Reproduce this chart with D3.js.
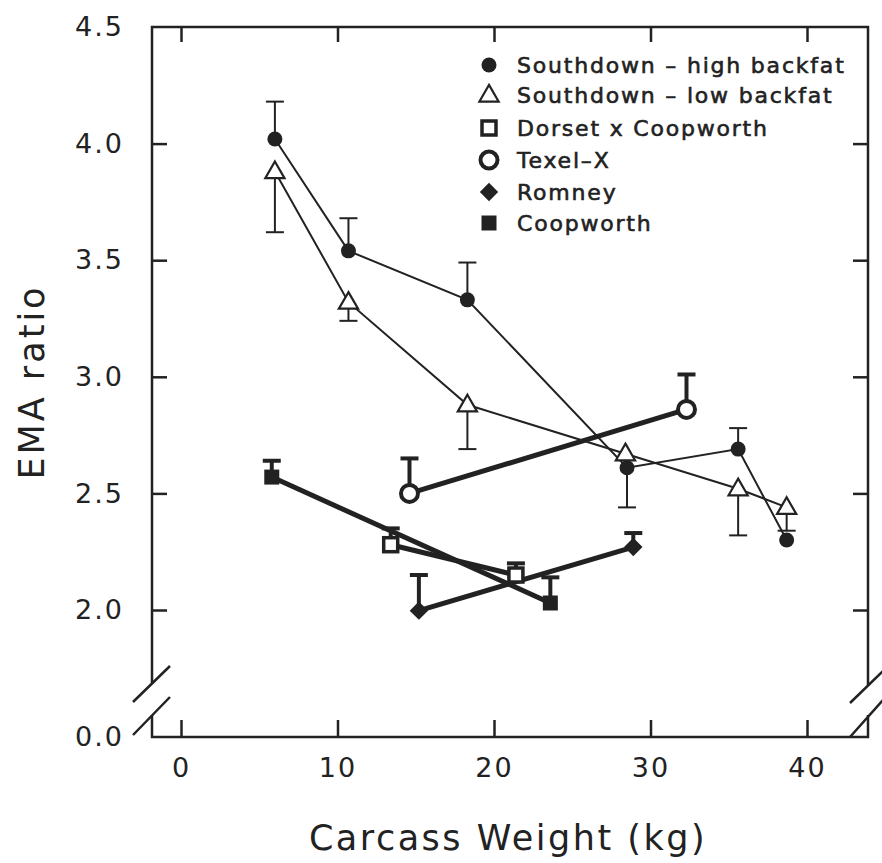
<!DOCTYPE html>
<html><head><meta charset="utf-8">
<script src="https://cdn.jsdelivr.net/npm/d3@7"></script>
<style>body{margin:0;background:#fff}svg{display:block}text{font-family:"DejaVu Sans",sans-serif;fill:#222}</style>
</head><body><svg id="c" width="882" height="863"></svg>
<script>
// ---- data ----
const seriesNames = ["Southdown – high backfat","Southdown – low backfat","Dorset x Coopworth","Texel–X","Romney","Coopworth"];
const sdHighX = [6.0, 10.7, 18.3, 28.5, 35.6, 38.7];
const sdHighY = [4.02, 3.54, 3.33, 2.61, 2.69, 2.30];
const sdHighErr = [4.18, 3.68, 3.49, 2.44, 2.78, null];
const sdLowX = [6.0, 10.7, 18.3, 28.4, 35.6, 38.7];
const sdLowY = [3.88, 3.32, 2.88, 2.67, 2.52, 2.44];
const sdLowErr = [3.62, 3.24, 2.69, null, 2.32, 2.34];
const dxcX = [13.4, 21.4];
const dxcY = [2.28, 2.15];
const dxcErr = [2.35, 2.20];
const texelX = [14.6, 32.3];
const texelY = [2.50, 2.86];
const texelErr = [2.65, 3.01];
const romneyX = [15.2, 28.9];
const romneyY = [1.99, 2.27];
const romneyErr = [2.15, 2.33];
const coopX = [5.8, 23.6];
const coopY = [2.57, 2.03];
const coopErr = [2.64, 2.14];
const xTicks = [0, 10, 20, 30, 40];
const yTicks = [0, 2.0, 2.5, 3.0, 3.5, 4.0, 4.5];

// ---- layout ----
const L = 152, R = 868, T = 27, B = 737;
const svg = d3.select("#c");
const x = d3.scaleLinear().domain([0, 40]).range([181, 807]);
const y = d3.scaleLinear().domain([0, 2, 4.5]).range([B, 610, T]);

const ink = "#222";
// frame with breaks
const frame = svg.append("g").attr("fill","none").attr("stroke",ink).attr("stroke-width",2.5);
frame.append("path").attr("d", `M${L},684 V${T} H${R} V686`);
frame.append("path").attr("d", `M${L},715 V${B} H${R} V715`);
frame.append("path").attr("d", "M133,702 L170,666 M133,735 L170,697 M850,703 L884,670 M850,737 L884,699");

// axes (inward ticks)
const fmt = d3.format(".1f");
const gl = svg.append("g").attr("transform",`translate(${L},0)`)
  .call(d3.axisLeft(y).tickValues(yTicks).tickSizeInner(-15).tickSizeOuter(0).tickPadding(28).tickFormat(fmt));
const gr = svg.append("g").attr("transform",`translate(${R},0)`)
  .call(d3.axisRight(y).tickValues(yTicks.slice(1,6)).tickSizeInner(-15).tickSizeOuter(0).tickFormat(""));
const gb = svg.append("g").attr("transform",`translate(0,${B})`)
  .call(d3.axisBottom(x).tickValues(xTicks).tickSizeInner(-17).tickSizeOuter(0).tickPadding(21).tickFormat(d3.format("d")));
const gt = svg.append("g").attr("transform",`translate(0,${T})`)
  .call(d3.axisTop(x).tickValues(xTicks).tickSizeInner(-15).tickSizeOuter(0).tickFormat(""));
[gl,gr,gb,gt].forEach(g=>{
  g.select(".domain").remove();
  g.selectAll(".tick line").attr("stroke",ink).attr("stroke-width",2.5);
  g.selectAll(".tick text").attr("fill",ink).style("font-size","27px").style("letter-spacing","2px").style("font-family","DejaVu Sans");
});
gl.selectAll(".tick").filter(d=>d===0||d===4.5).select("line").remove();

// titles
svg.append("text").attr("x",508).attr("y",850).attr("text-anchor","middle")
  .style("font-size","35px").style("letter-spacing","2.5px").text("Carcass Weight (kg)");
svg.append("text").attr("transform","translate(44,382) rotate(-90)").attr("text-anchor","middle")
  .style("font-size","35px").style("letter-spacing","3px").text("EMA ratio");

// series definitions
const series = [
  {xs:sdHighX, ys:sdHighY, es:sdHighErr, lw:2, ew:2, sym:"circleF"},
  {xs:sdLowX, ys:sdLowY, es:sdLowErr, lw:2, ew:2, sym:"tri"},
  {xs:dxcX, ys:dxcY, es:dxcErr, lw:5, ew:4, sym:"squareO"},
  {xs:texelX, ys:texelY, es:texelErr, lw:5, ew:4, sym:"circleO"},
  {xs:romneyX, ys:romneyY, es:romneyErr, lw:5, ew:4, sym:"diamond"},
  {xs:coopX, ys:coopY, es:coopErr, lw:5, ew:4, sym:"squareF"}
];

function drawSym(g, sym, cx, cy){
  if(sym==="circleF") g.append("circle").attr("cx",cx).attr("cy",cy).attr("r",7.5).attr("fill",ink);
  else if(sym==="circleO") g.append("circle").attr("cx",cx).attr("cy",cy).attr("r",8.5).attr("fill","#fff").attr("stroke",ink).attr("stroke-width",4);
  else if(sym==="tri") g.append("path").attr("d",d3.symbol(d3.symbolTriangle,160)()).attr("transform",`translate(${cx},${cy+1})`).attr("fill","#fff").attr("stroke",ink).attr("stroke-width",2.2);
  else if(sym==="squareO") g.append("rect").attr("x",cx-7).attr("y",cy-7).attr("width",14).attr("height",14).attr("fill","#fff").attr("stroke",ink).attr("stroke-width",3.5);
  else if(sym==="squareF") g.append("rect").attr("x",cx-7.5).attr("y",cy-7.5).attr("width",15).attr("height",15).attr("fill",ink);
  else if(sym==="diamond") g.append("rect").attr("x",-6.5).attr("y",-6.5).attr("width",13).attr("height",13).attr("fill",ink).attr("transform",`translate(${cx},${cy}) rotate(45)`);
}

const line = d3.line();
const gLines = svg.append("g"), gErr = svg.append("g"), gMk = svg.append("g");
series.forEach(s=>{
  const pts = s.xs.map((v,i)=>[x(v), y(s.ys[i])]);
  gLines.append("path").attr("d", line(pts)).attr("fill","none").attr("stroke",ink).attr("stroke-width",s.lw);
  s.es.forEach((e,i)=>{
    if(e==null) return;
    const cx = x(s.xs[i]);
    gErr.append("line").attr("x1",cx).attr("x2",cx).attr("y1",y(s.ys[i])).attr("y2",y(e)).attr("stroke",ink).attr("stroke-width",s.ew);
    gErr.append("line").attr("x1",cx-9).attr("x2",cx+9).attr("y1",y(e)).attr("y2",y(e)).attr("stroke",ink).attr("stroke-width",s.ew);
  });
});
series.forEach(s=>{
  s.xs.forEach((v,i)=> drawSym(gMk, s.sym, x(v), y(s.ys[i])));
});

// legend
const legY = [65, 95, 128, 160, 192, 223];
const gLeg = svg.append("g");
seriesNames.forEach((n,i)=>{
  drawSym(gLeg, series[i].sym, 489, legY[i]);
  gLeg.append("text").attr("x",517).attr("y",legY[i]).attr("dy","0.36em")
    .style("font-size","22px").style("letter-spacing","1.8px").style("stroke",ink).style("stroke-width","0.6px").text(n);
});
</script></body></html>
